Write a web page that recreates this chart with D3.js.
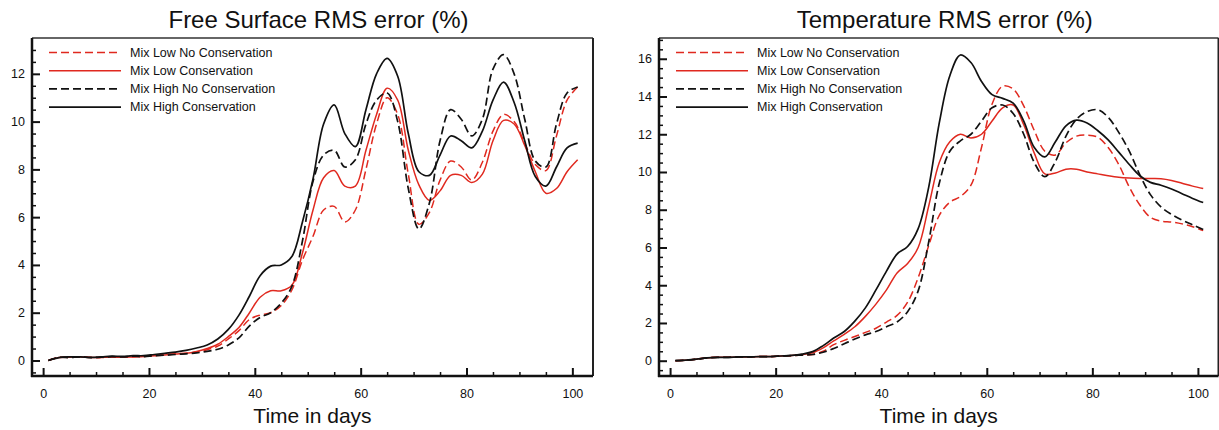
<!DOCTYPE html>
<html lang="en">
<head>
<meta charset="UTF-8">
<title>RMS error</title>
<style>
    body { margin: 0; background: #fff; }
    svg text { font-family: "Liberation Sans", Arial, sans-serif; fill: #111; }
    .axis path, .axis line { stroke: #111; }
    .axis text { font-size: 12.5px; }
</style>
</head>
<body>
<svg id="chart" width="1219" height="430"></svg>
<script src="https://cdn.jsdelivr.net/npm/d3@7/dist/d3.min.js"></script>
<script>

// days sampled (odd days 1..101)
var days = d3.range(1, 102, 2);

var seriesNames = ["Mix Low No Conservation", "Mix Low Conservation",
                   "Mix High No Conservation", "Mix High Conservation"];

// Free surface RMS error (%)
var fsLowNoCons = [0, 0.13, 0.13, 0.16, 0.13, 0.12, 0.15, 0.14, 0.16, 0.17,
    0.2, 0.25, 0.28, 0.3, 0.35, 0.45, 0.6, 0.9, 1.25, 1.72,
    1.9, 2.0, 2.3, 2.95, 4.2, 5.2, 6.3, 6.45, 5.8, 6.3,
    8.0, 9.9, 11.0, 10.3, 7.8, 5.7, 6.2, 7.55, 8.35, 8.1,
    7.55, 8.3, 9.6, 10.3, 10.0, 9.1, 8.2, 7.95, 9.4, 10.9, 11.45];
var fsLowCons = [0, 0.12, 0.14, 0.15, 0.12, 0.13, 0.14, 0.13, 0.15, 0.17,
    0.2, 0.23, 0.27, 0.3, 0.38, 0.5, 0.68, 1.0, 1.38, 2.0,
    2.65, 2.92, 2.92, 3.15, 4.5, 6.3, 7.65, 7.95, 7.3, 7.3,
    8.8, 10.3, 11.4, 10.9, 8.8, 7.35, 6.7, 7.1, 7.75, 7.75,
    7.45, 7.8, 9.2, 10.05, 9.9, 9.0, 7.9, 7.0, 7.2, 7.9, 8.4];
var fsHighNoCons = [0, 0.13, 0.12, 0.15, 0.12, 0.14, 0.16, 0.15, 0.18, 0.16,
    0.2, 0.22, 0.25, 0.28, 0.32, 0.38, 0.47, 0.65, 0.95, 1.45,
    1.8, 2.0, 2.4, 3.1, 5.0, 7.5, 8.6, 8.8, 8.1, 8.4,
    9.9, 10.9, 11.2, 10.0, 7.2, 5.5, 6.6, 9.2, 10.5, 10.1,
    9.4, 10.1, 12.2, 12.8, 12.0, 10.1, 8.35, 8.1, 9.9, 11.2, 11.45];
var fsHighCons = [0, 0.12, 0.15, 0.15, 0.13, 0.15, 0.18, 0.17, 0.2, 0.2,
    0.25, 0.3, 0.35, 0.42, 0.52, 0.65, 0.9, 1.3, 1.9, 2.7,
    3.55, 3.95, 4.0, 4.35, 5.8, 7.6, 9.9, 10.7, 9.5, 8.95,
    10.5, 12.0, 12.65, 11.9, 9.5, 7.9, 7.75, 8.6, 9.4, 9.2,
    8.9, 9.6, 10.9, 11.65, 10.8, 9.2, 7.7, 7.3, 8.1, 8.9, 9.1];

// Temperature RMS error (%)
var tLowNoCons = [0, 0.03, 0.08, 0.15, 0.18, 0.18, 0.2, 0.2, 0.22, 0.22,
    0.25, 0.27, 0.3, 0.33, 0.5, 0.85, 1.08, 1.28, 1.5, 1.72,
    2.05, 2.4, 3.1, 4.4, 6.1, 7.7, 8.4, 8.7, 9.3, 11.3,
    13.6, 14.55, 14.4, 13.5, 12.2, 11.1, 10.9, 11.55, 11.9, 11.95,
    11.85, 11.3, 10.4, 9.2, 8.25, 7.6, 7.4, 7.35, 7.25, 7.1, 6.9];
var tLowCons = [0, 0.03, 0.08, 0.15, 0.18, 0.18, 0.2, 0.2, 0.22, 0.22,
    0.25, 0.28, 0.33, 0.42, 0.68, 1.05, 1.4, 1.8, 2.35, 3.0,
    3.75, 4.65, 5.15, 6.0, 8.2, 10.5, 11.6, 12.0, 11.8, 12.0,
    12.7, 13.4, 13.55, 12.5, 11.0, 9.9, 9.95, 10.15, 10.15, 10.0,
    9.9, 9.8, 9.72, 9.68, 9.66, 9.65, 9.64, 9.55, 9.4, 9.25, 9.12];
var tHighNoCons = [0, 0.03, 0.08, 0.15, 0.18, 0.18, 0.2, 0.2, 0.22, 0.22,
    0.25, 0.27, 0.3, 0.33, 0.45, 0.65, 0.9, 1.15, 1.37, 1.55,
    1.8, 2.05, 2.6, 3.7, 6.3, 9.4, 11.1, 11.65, 12.0, 12.7,
    13.4, 13.55, 13.1, 12.0, 10.5, 9.75, 10.55, 11.9, 12.8, 13.2,
    13.3, 12.9, 12.1, 11.1, 9.85, 8.8, 8.15, 7.75, 7.45, 7.2, 6.95];
var tHighCons = [0, 0.03, 0.08, 0.15, 0.18, 0.18, 0.2, 0.2, 0.22, 0.22,
    0.25, 0.28, 0.35, 0.48, 0.8, 1.2, 1.55, 2.1, 2.8, 3.75,
    4.75, 5.65, 6.05, 7.0, 9.2, 12.6, 15.1, 16.2, 15.8, 14.8,
    14.1, 13.9, 13.65, 12.7, 11.3, 10.8, 11.6, 12.45, 12.75, 12.6,
    12.2, 11.7, 11.05, 10.4, 9.8, 9.45, 9.3, 9.1, 8.85, 8.6, 8.38];

var xTicks = [0, 20, 40, 60, 80, 100];
var fsTicks = [0, 2, 4, 6, 8, 10, 12];
var tTicks = [0, 2, 4, 6, 8, 10, 12, 14, 16];

var red = "#e0291f";
var styles = [
    {color: red, dash: "8,4", width: 1.5},
    {color: red, dash: null, width: 1.5},
    {color: "#111", dash: "8,4", width: 1.7},
    {color: "#111", dash: null, width: 1.7}
];

var svg = d3.select("#chart");

function panel(opt) {
    var x = d3.scaleLinear().domain([-2.1, 103.9]).range([opt.left, opt.right]);
    var y = d3.scaleLinear().domain(opt.yDomain).range([opt.bottom, opt.top]);
    var g = svg.append("g");

    // minor ticks
    var xMinor = d3.range(0, 101, 5).filter(function (d) { return xTicks.indexOf(d) < 0; });
    var yMinor = d3.range(Math.ceil(opt.yDomain[0] * 2) / 2, opt.yDomain[1], 0.5)
        .filter(function (d) { return opt.yTicks.indexOf(d) < 0; });

    g.append("g").attr("class", "axis")
        .attr("transform", "translate(0," + opt.bottom + ")")
        .call(d3.axisBottom(x).tickValues(xMinor).tickSize(-4).tickFormat(""))
        .call(function (s) { s.select(".domain").remove(); s.selectAll("line").attr("stroke-width", 1.5); });
    g.append("g").attr("class", "axis")
        .attr("transform", "translate(" + opt.left + ",0)")
        .call(d3.axisLeft(y).tickValues(yMinor).tickSize(-4).tickFormat(""))
        .call(function (s) { s.select(".domain").remove(); s.selectAll("line").attr("stroke-width", 1.5); });

    // major ticks
    g.append("g").attr("class", "axis")
        .attr("transform", "translate(0," + opt.bottom + ")")
        .call(d3.axisBottom(x).tickValues(xTicks).tickSize(-8).tickPadding(13).tickSizeOuter(0))
        .call(function (s) { s.select(".domain").remove(); s.selectAll("line").attr("stroke-width", 2); });
    g.append("g").attr("class", "axis")
        .attr("transform", "translate(" + opt.left + ",0)")
        .call(d3.axisLeft(y).tickValues(opt.yTicks).tickSize(-8).tickPadding(7).tickSizeOuter(0))
        .call(function (s) { s.select(".domain").remove(); s.selectAll("line").attr("stroke-width", 2); });

    // lines
    var line = d3.line()
        .x(function (d) { return x(d[0]); })
        .y(function (d) { return y(d[1]); })
        .curve(d3.curveCatmullRom.alpha(0.5));

    opt.series.forEach(function (vals, i) {
        var st = styles[i];
        g.append("path")
            .datum(days.map(function (d, k) { return [d, vals[k]]; }))
            .attr("fill", "none")
            .attr("stroke", st.color)
            .attr("stroke-width", st.width)
            .attr("stroke-dasharray", st.dash)
            .attr("d", line);
    });

    // frame
    g.append("line").attr("x1", opt.left).attr("x2", opt.right)
        .attr("y1", opt.top).attr("y2", opt.top).attr("stroke", "#333").attr("stroke-width", 1.5);
    g.append("line").attr("x1", opt.right).attr("x2", opt.right)
        .attr("y1", opt.top).attr("y2", opt.bottom).attr("stroke", "#222").attr("stroke-width", 2);
    g.append("line").attr("x1", opt.left).attr("x2", opt.left)
        .attr("y1", opt.top).attr("y2", opt.bottom + 1).attr("stroke", "#111").attr("stroke-width", 2.5);
    g.append("line").attr("x1", opt.left - 1).attr("x2", opt.right)
        .attr("y1", opt.bottom).attr("y2", opt.bottom).attr("stroke", "#111").attr("stroke-width", 2.5);

    // legend
    var lg = g.append("g").attr("transform", "translate(" + (opt.left + 17) + "," + 52.5 + ")");
    seriesNames.forEach(function (name, i) {
        var st = styles[i];
        lg.append("line")
            .attr("x1", 0).attr("x2", 72)
            .attr("y1", i * 18.2).attr("y2", i * 18.2)
            .attr("stroke", st.color)
            .attr("stroke-width", st.width)
            .attr("stroke-dasharray", st.dash);
        lg.append("text")
            .attr("x", 81).attr("y", i * 18.2)
            .attr("dy", "0.35em")
            .style("font-size", "12.5px")
            .text(name);
    });

    // titles
    var cx = (opt.left + opt.right) / 2;
    g.append("text").attr("x", cx + 6).attr("y", 28)
        .attr("text-anchor", "middle").style("font-size", "24px")
        .text(opt.title);
    g.append("text").attr("x", cx).attr("y", 423)
        .attr("text-anchor", "middle").style("font-size", "21px")
        .text("Time in days");
}

panel({
    left: 32, right: 593, top: 38, bottom: 376,
    yDomain: [-0.65, 13.5], yTicks: fsTicks,
    title: "Free Surface RMS error (%)",
    series: [fsLowNoCons, fsLowCons, fsHighNoCons, fsHighCons]
});

panel({
    left: 659, right: 1218.5, top: 38, bottom: 376,
    yDomain: [-0.81, 17.1], yTicks: tTicks,
    title: "Temperature RMS error (%)",
    series: [tLowNoCons, tLowCons, tHighNoCons, tHighCons]
});

</script>
</body>
</html>
